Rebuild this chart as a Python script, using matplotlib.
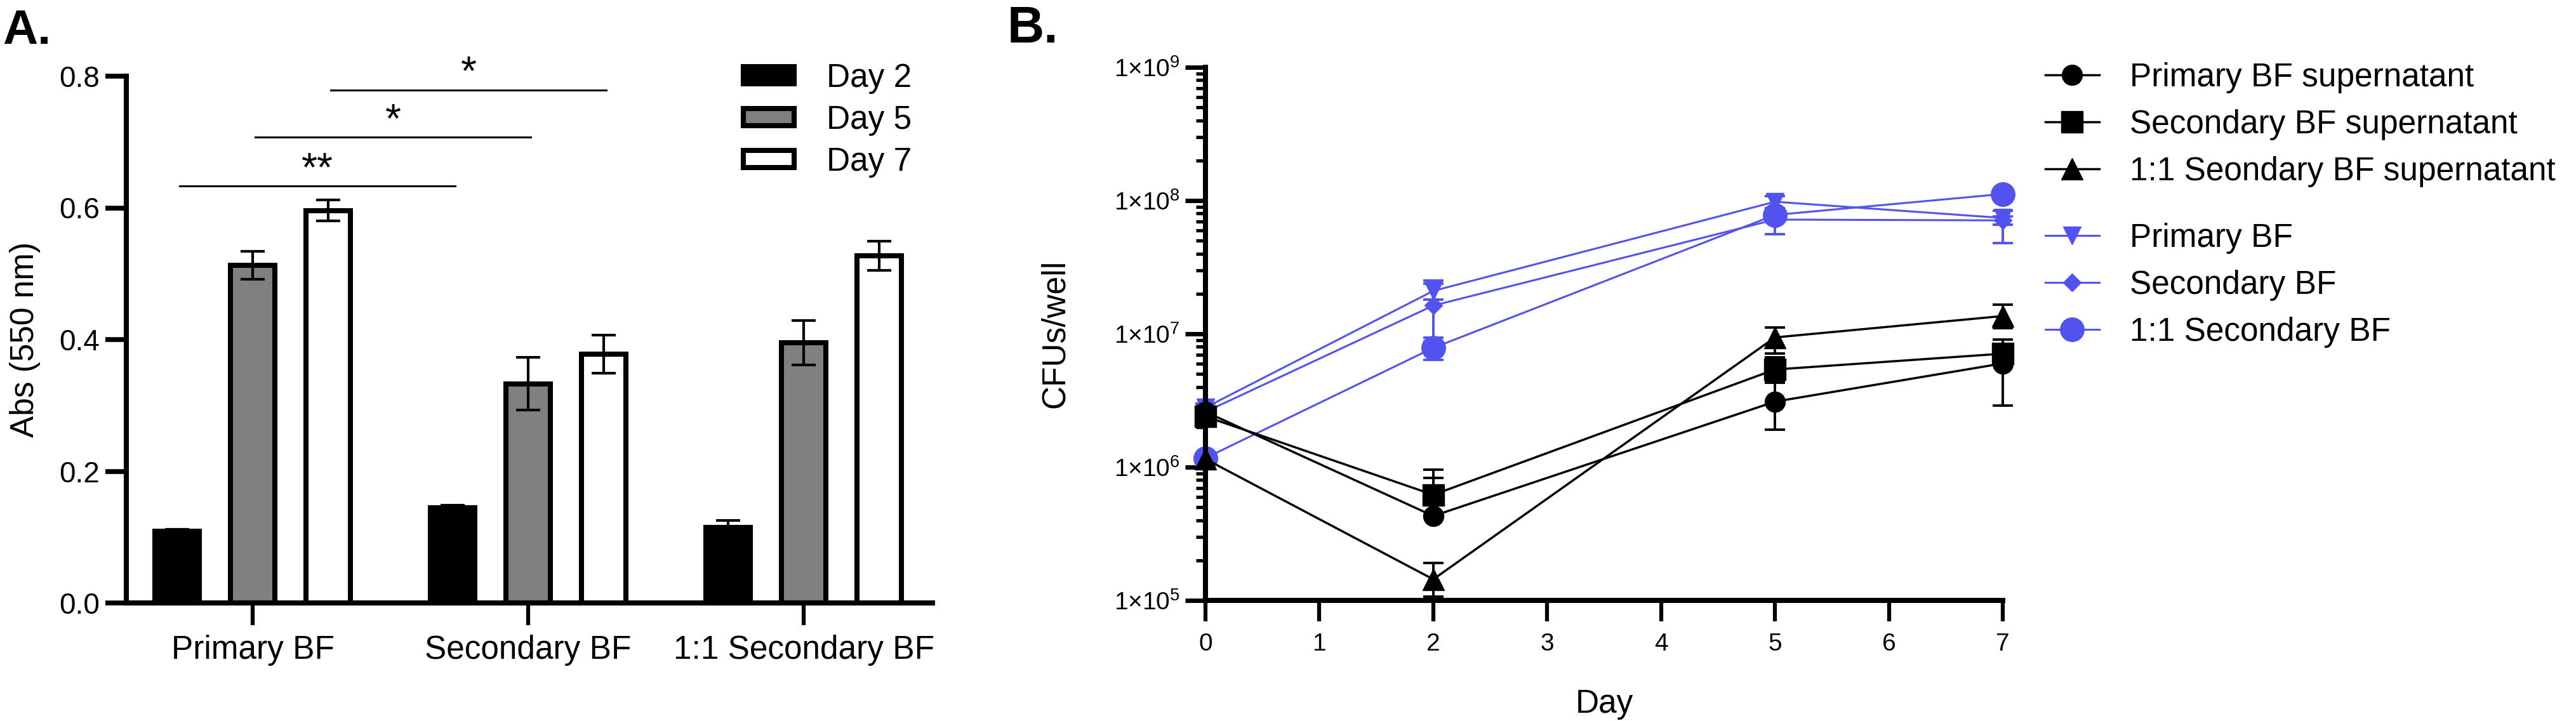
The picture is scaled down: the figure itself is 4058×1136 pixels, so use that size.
import numpy as np
import matplotlib
matplotlib.use('Agg')
import matplotlib.pyplot as plt
from matplotlib.lines import Line2D
from matplotlib.patches import Patch
from matplotlib.ticker import LogLocator, NullFormatter, FixedLocator, FixedFormatter

plt.rcParams['font.family'] = ['Liberation Sans', 'DejaVu Sans']
plt.rcParams['mathtext.fontset'] = 'custom'
plt.rcParams['mathtext.rm'] = 'Liberation Sans'
plt.rcParams['mathtext.it'] = 'Liberation Sans:italic'
plt.rcParams['mathtext.bf'] = 'Liberation Sans:bold'

# ###############################################
# Panel A : crystal violet absorbance
groups = ['Primary BF', 'Secondary BF', '1:1 Secondary BF']
day_names = ['Day 2', 'Day 5', 'Day 7']
abs_day2 = [0.109, 0.145, 0.115]
abs_day5 = [0.513, 0.333, 0.395]
abs_day7 = [0.596, 0.378, 0.527]
sd_day2 = [0.003, 0.003, 0.010]
sd_day5 = [0.021, 0.040, 0.034]
sd_day7 = [0.016, 0.029, 0.022]
sig_labels = ['**', '*', '*']      # Primary vs Secondary, for day 2 / 5 / 7
sig_heights = [0.633, 0.707, 0.779]

# Panel B : CFUs per well
days = [0, 2, 5, 7]
yticks_b = [1e5, 1e6, 1e7, 1e8, 1e9]
series_names = ['Primary BF supernatant', 'Secondary BF supernatant',
                '1:1 Seondary BF supernatant',
                'Primary BF', 'Secondary BF', '1:1 Secondary BF']
prim_sup = [2.6e6, 4.3e5, 3.1e6, 6.0e6]
prim_sup_lo = [0.2e6, 0.0, 1.2e6, 3.1e6]
prim_sup_hi = [0.2e6, 4.0e5, 1.2e6, 3.1e6]
sec_sup = [2.4e6, 6.2e5, 5.4e6, 7.1e6]
sec_sup_lo = [0.2e6, 0.5e5, 1.05e6, 1.0e6]
sec_sup_hi = [0.2e6, 3.4e5, 1.3e6, 1.0e6]
mix_sup = [1.15e6, 1.44e5, 9.4e6, 1.36e7]
mix_sup_lo = [0.05e6, 0.37e5, 2.3e6, 2.6e6]
mix_sup_hi = [0.05e6, 0.46e5, 1.8e6, 3.0e6]
prim_bf = [2.8e6, 2.1e7, 9.8e7, 7.4e7]
prim_bf_lo = [0.2e6, 0.3e7, 1.0e7, 2.6e7]
prim_bf_hi = [0.2e6, 0.4e7, 1.0e7, 1.0e7]
sec_bf = [2.6e6, 1.63e7, 7.2e7, 7.1e7]
sec_bf_lo = [0.2e6, 0.75e7, 1.6e7, 0.5e7]
sec_bf_hi = [0.2e6, 0.75e7, 1.6e7, 0.5e7]
mix_bf = [1.17e6, 7.85e6, 7.8e7, 1.12e8]
mix_bf_lo = [0.05e6, 1.5e6, 0.8e7, 0.1e8]
mix_bf_hi = [0.05e6, 1.5e6, 0.8e7, 0.1e8]
# ###############################################

W, H = 4058, 1136
blue = '#5252EE'
fig = plt.figure(figsize=(W / 100, H / 100), dpi=100)

def px_axes(x0, y0, x1, y1):
    return fig.add_axes([x0 / W, 1 - y1 / H, (x1 - x0) / W, (y1 - y0) / H])

# ---------------- Panel A ----------------
axA = px_axes(199, 120, 1469, 950)
x = np.arange(len(groups))
off = 0.274
bw = 0.16
fills = ['black', '#808080', 'white']
vals = [abs_day2, abs_day5, abs_day7]
sds = [sd_day2, sd_day5, sd_day7]
for i in range(3):
    axA.bar(x + (i - 1) * off, vals[i], bw, color=fills[i], edgecolor='black',
            linewidth=5.8, zorder=2)
    axA.errorbar(x + (i - 1) * off, vals[i], yerr=sds[i], fmt='none', ecolor='black',
                 elinewidth=3, capsize=14, capthick=3, zorder=3)

for i in range(3):
    x0 = x[0] + (i - 1) * off + 0.01
    x1 = x[1] + (i - 1) * off + 0.01
    axA.plot([x0, x1], [sig_heights[i]] * 2, color='black', lw=2.2)
    axA.text((x0 + x1) / 2, sig_heights[i] + 0.008, sig_labels[i], ha='center',
             va='baseline', fontsize=46)

axA.set_xlim(-0.4585, 2.4677)
axA.set_ylim(0, 0.8)
axA.set_yticks([0.0, 0.2, 0.4, 0.6, 0.8])
axA.set_yticklabels(['0.0', '0.2', '0.4', '0.6', '0.8'])
axA.set_xticks(x)
axA.set_xticklabels(groups)
for s in ['top', 'right']:
    axA.spines[s].set_visible(False)
for s in ['left', 'bottom']:
    axA.spines[s].set_linewidth(5.8)
axA.tick_params(axis='y', length=24, width=5.5, labelsize=33, pad=6)
axA.tick_params(axis='x', length=25, width=4.5, labelsize=37, pad=11)

hA = [Patch(facecolor=fills[i], edgecolor='black', linewidth=5.8) for i in range(3)]
legA = fig.legend(hA, day_names, loc='upper left', bbox_to_anchor=(1171 / W, 1 - 99 / H),
                  frameon=False, fontsize=37, borderpad=0, borderaxespad=0,
                  handlelength=1.55, handleheight=0.42, handletextpad=1.0,
                  labelspacing=0.33)

fig.text(40 / W, 1 - 535 / H, 'Abs (550 nm)', rotation=90, ha='center', va='center',
         fontsize=37)
fig.text(4 / W, 1 - 69 / H, 'A.', fontsize=55, fontweight='bold', va='baseline')

# ---------------- Panel B ----------------
axB = px_axes(1899, 106, 3155, 946)
axB.set_yscale('log')

specs = [
    (prim_bf, prim_bf_lo, prim_bf_hi, 'v', 20, blue, 2.2),
    (sec_bf, sec_bf_lo, sec_bf_hi, 'D', 14, blue, 2.2),
    (mix_bf, mix_bf_lo, mix_bf_hi, 'o', 27, blue, 2.2),
    (prim_sup, prim_sup_lo, prim_sup_hi, 'o', 23, 'black', 2.5),
    (sec_sup, sec_sup_lo, sec_sup_hi, 's', 24, 'black', 2.5),
    (mix_sup, mix_sup_lo, mix_sup_hi, '^', 24, 'black', 2.5),
]
for v, lo, hi, m, ms, c, lw in specs:
    axB.errorbar(days, v, yerr=[lo, hi], fmt=m + '-', color=c, ms=ms, mec=c, mfc=c,
                 lw=lw, elinewidth=2.8, capsize=11.5, capthick=2.8, clip_on=False)

axB.set_xlim(0, 7)
axB.set_ylim(1e5, 1e9)
axB.set_xticks(range(8))
axB.yaxis.set_major_locator(FixedLocator(yticks_b))
axB.yaxis.set_major_formatter(FixedFormatter(['1×10$^{%d}$' % int(np.log10(t)) for t in yticks_b]))
axB.yaxis.set_minor_locator(LogLocator(base=10, subs=np.arange(2, 10)))
axB.yaxis.set_minor_formatter(NullFormatter())
for s in ['top', 'right']:
    axB.spines[s].set_visible(False)
for s in ['left', 'bottom']:
    axB.spines[s].set_linewidth(5.8)
axB.tick_params(axis='y', which='major', length=23, width=5, labelsize=28, pad=6)
axB.tick_params(axis='y', which='minor', length=11, width=3.8)
axB.tick_params(axis='x', length=24, width=4.5, labelsize=28, pad=13)

hB1 = [Line2D([], [], color='black', marker=m, ms=ms, lw=2.5)
       for m, ms in [('o', 23), ('s', 24), ('^', 24)]]
hB2 = [Line2D([], [], color=blue, marker=m, ms=ms, lw=2.2)
       for m, ms in [('v', 20), ('D', 14), ('o', 27)]]
kw = dict(loc='upper left', frameon=False, fontsize=37, borderpad=0, borderaxespad=0,
          handlelength=1.65, handletextpad=0.93, labelspacing=0.49)
legB1 = fig.legend(hB1, series_names[:3], bbox_to_anchor=(3222 / W, 1 - 98 / H), **kw)
legB2 = fig.legend(hB2, series_names[3:], bbox_to_anchor=(3222 / W, 1 - 351 / H), **kw)

fig.text(1662 / W, 1 - 526 / H, 'CFUs/well', rotation=90, ha='center', va='center',
         fontsize=37)
fig.text(2527 / W, 1 - 1123 / H, 'Day', ha='center', va='baseline', fontsize=37)
fig.text(1587 / W, 1 - 67 / H, 'B.', fontsize=58, fontweight='bold', va='baseline')

fig.savefig('out.png', dpi=100)
